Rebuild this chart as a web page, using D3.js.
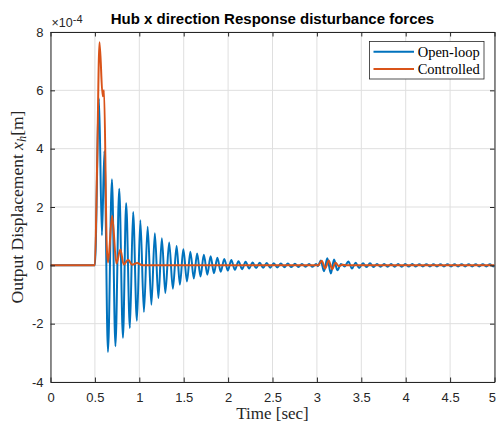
<!DOCTYPE html>
<html><head><meta charset="utf-8">
<script src="https://cdn.jsdelivr.net/npm/d3@7"></script>
<style>body{margin:0;background:#fff;} svg{display:block;}</style>
</head><body>
<svg id="chart" width="496" height="426"></svg>
<script>
// ---------------- data (displacement in units of 1e-4 m) ----------------
const xTicks = [0, 0.5, 1, 1.5, 2, 2.5, 3, 3.5, 4, 4.5, 5];
const yTicks = [-4, -2, 0, 2, 4, 6, 8];
const seriesNames = ["Open-loop", "Controlled"];

// Open-loop response: read turning points (time [s], value [1e-4 m])
const openT = [
  0, 0.500, 0.546, 0.579, 0.607, 0.647, 0.692, 0.731, 0.774, 0.816,
  0.852, 0.894, 0.930, 0.973, 1.012, 1.052, 1.094, 1.136, 1.175, 1.215,
  1.254, 1.293, 1.336, 1.378, 1.420, 1.457, 1.496, 1.537, 1.575, 1.614,
  1.651, 1.689, 1.727, 1.766, 1.803, 1.841, 1.879, 1.917, 1.957, 1.997,
  2.036, 2.077, 2.117, 2.158, 2.197, 2.237, 2.276, 2.316, 2.356, 2.395,
  2.435, 2.475, 2.514, 2.554, 2.594, 2.634, 2.673, 2.713, 2.753, 2.792,
  2.832, 2.872, 2.912, 2.951, 2.991, 3.012, 3.043, 3.080, 3.117, 3.157,
  3.193, 3.230, 3.271, 3.312, 3.354, 3.395, 3.436, 3.476, 3.519, 3.559,
  3.598, 3.638, 3.677, 3.717, 3.757, 3.796, 3.836, 3.876, 3.915, 3.955,
  3.995, 4.034, 4.074, 4.114, 4.154, 4.193, 4.233, 4.273, 4.312, 4.352,
  4.392, 4.431, 4.471, 4.511, 4.551, 4.590, 4.630, 4.670, 4.709, 4.749,
  4.789, 4.828, 4.868, 4.908, 4.948, 4.987, 5.000
];
const openY = [
  0, 0, 5.72, 1.03, 3.92, -2.97, 2.95, -2.77, 2.63, -2.48,
  2.13, -2.15, 1.83, -1.90, 1.55, -1.60, 1.32, -1.35, 1.10, -1.12,
  0.93, -0.95, 0.78, -0.80, 0.66, -0.66, 0.55, -0.55, 0.47, -0.45,
  0.41, -0.38, 0.36, -0.32, 0.31, -0.27, 0.26, -0.22, 0.22, -0.18,
  0.18, -0.15, 0.14, -0.13, 0.12, -0.11, 0.10, -0.095, 0.09, -0.085,
  0.08, -0.08, 0.075, -0.07, 0.065, -0.065, 0.06, -0.06, 0.055, -0.055,
  0.05, -0.05, 0.05, -0.05, 0.045, -0.03, 0.17, -0.20, 0.24, -0.28,
  0.20, -0.17, 0.05, -0.04, 0.13, -0.11, 0.09, -0.09, 0.07, -0.06,
  0.07, -0.06, 0.05, -0.05, 0.05, -0.045, 0.045, -0.045, 0.045, -0.045,
  0.045, -0.04, 0.045, -0.04, 0.04, -0.04, 0.04, -0.04, 0.04, -0.04,
  0.04, -0.04, 0.04, -0.04, 0.04, -0.04, 0.04, -0.04, 0.04, -0.04,
  0.04, -0.04, 0.04, -0.04, 0.04, -0.04, 0
];

// Controlled response: read turning points
const ctrlT = [0, 0.500, 0.524, 0.552, 0.587, 0.603, 0.633, 0.648, 0.694, 0.742,
  0.787, 0.824, 0.874, 0.919, 0.975, 1.035, 3.015, 3.055, 3.093, 3.133,
  3.172, 3.210, 3.248, 3.290, 3.330, 5.000];
const ctrlY = [0, 0, 3.3, 7.65, 5.8, 6.0, 0.7, 0.1, 1.7, 0.06,
  0.54, 0.03, 0.19, 0.02, 0.08, 0, 0, 0.16, -0.11, 0.17,
  -0.13, 0.09, -0.03, 0.02, 0, 0];

// ---------------- drawing ----------------
const W = 496, H = 426;
const box = {l: 50.5, r: 494.5, t: 32, b: 382};
const axColor = "#262626";
const sans = "'Liberation Sans', Arial, Helvetica, sans-serif";
const serif = "'Liberation Serif', 'Times New Roman', serif";
const colors = ["#0072BD", "#D95319"];

const svg = d3.select("#chart");
svg.append("rect").attr("width", W).attr("height", H).attr("fill", "#fff");

const x = d3.scaleLinear().domain([0, 5]).range([box.l, box.r]);
const y = d3.scaleLinear().domain([-4, 8]).range([box.b, box.t]);

// grid
const grid = svg.append("g");
grid.selectAll("line.gx").data(xTicks).join("line").attr("class", "gx")
  .attr("x1", d => x(d)).attr("x2", d => x(d)).attr("y1", box.t).attr("y2", box.b)
  .attr("stroke", "#dfdfdf").attr("stroke-width", 1);
grid.selectAll("line.gy").data(yTicks).join("line").attr("class", "gy")
  .attr("y1", d => y(d)).attr("y2", d => y(d)).attr("x1", box.l).attr("x2", box.r)
  .attr("stroke", "#dfdfdf").attr("stroke-width", 1);

// clip
svg.append("clipPath").attr("id", "clip").append("rect")
  .attr("x", box.l).attr("y", box.t).attr("width", box.r - box.l).attr("height", box.b - box.t);

const line = d3.line().x(d => x(d[0])).y(d => y(d[1])).curve(d3.curveMonotoneX);
const plot = svg.append("g").attr("clip-path", "url(#clip)");
plot.append("path").datum(d3.zip(openT, openY)).attr("d", line)
  .attr("fill", "none").attr("stroke", colors[0]).attr("stroke-width", 2).attr("stroke-linejoin", "round");
plot.append("path").datum(d3.zip(ctrlT, ctrlY)).attr("d", line)
  .attr("fill", "none").attr("stroke", colors[1]).attr("stroke-width", 2).attr("stroke-linejoin", "round");

// axes
function style(g) {
  g.attr("font-family", sans).attr("font-size", 13);
  g.selectAll("path.domain").attr("stroke", axColor).attr("stroke-width", 1);
  g.selectAll(".tick line").attr("stroke", axColor).attr("stroke-width", 1);
  g.selectAll(".tick text").attr("fill", axColor);
}
const fmt = d => String(d);
const gxb = svg.append("g").attr("transform", `translate(0,${box.b})`)
  .call(d3.axisBottom(x).tickValues(xTicks).tickFormat(fmt).tickSizeInner(-4.5).tickSizeOuter(0).tickPadding(11))
  .call(style);
// keep the last label inside the picture (the reference shows it at the very edge)
gxb.selectAll(".tick text").filter(d => d === 5)
  .attr("text-anchor", "end").attr("x", W - box.r - 0.5);
svg.append("g").attr("transform", `translate(0,${box.t})`)
  .call(d3.axisTop(x).tickValues(xTicks).tickFormat("").tickSizeInner(-4.5).tickSizeOuter(0))
  .call(style);
svg.append("g").attr("transform", `translate(${box.l},0)`)
  .call(d3.axisLeft(y).tickValues(yTicks).tickFormat(fmt).tickSizeInner(-4.5).tickSizeOuter(0).tickPadding(7))
  .call(style);
svg.append("g").attr("transform", `translate(${box.r},0)`)
  .call(d3.axisRight(y).tickValues(yTicks).tickFormat("").tickSizeInner(-4.5).tickSizeOuter(0))
  .call(style);

// exponent label
const ex = svg.append("text").attr("x", 51.5).attr("y", 27.3)
  .attr("font-family", sans).attr("font-size", 12.5).attr("fill", axColor);
ex.append("tspan").text("\u00d710");
ex.append("tspan").attr("font-size", 11).attr("dy", -4.5).text("-4");

// title
svg.append("text").attr("x", (box.l + box.r) / 2).attr("y", 24)
  .attr("text-anchor", "middle").attr("font-family", sans).attr("font-weight", "bold")
  .attr("font-size", 15).attr("fill", "#000")
  .text("Hub x direction Response disturbance forces");

// x label
svg.append("text").attr("x", (box.l + box.r) / 2).attr("y", 419)
  .attr("text-anchor", "middle").attr("font-family", serif).attr("font-size", 17)
  .attr("fill", axColor).text("Time [sec]");

// y label
const yl = svg.append("text")
  .attr("transform", `translate(23,${(box.t + box.b) / 2}) rotate(-90)`)
  .attr("text-anchor", "middle").attr("font-family", serif).attr("font-size", 17.5)
  .attr("fill", axColor);
yl.append("tspan").text("Output Displacement ");
yl.append("tspan").attr("font-style", "italic").text("x");
yl.append("tspan").attr("font-style", "italic").attr("font-size", 12.5).attr("dy", 3).text("h");
yl.append("tspan").attr("dy", -3).text("[m]");

// legend
const lg = svg.append("g");
lg.append("rect").attr("x", 369.5).attr("y", 41.5).attr("width", 114.5).attr("height", 37.5)
  .attr("fill", "#fff").attr("stroke", axColor).attr("stroke-width", 0.8);
seriesNames.forEach((name, i) => {
  const yy = 51.7 + i * 17.3;
  lg.append("line").attr("x1", 373.5).attr("x2", 414).attr("y1", yy).attr("y2", yy)
    .attr("stroke", colors[i]).attr("stroke-width", 2);
  lg.append("text").attr("x", 417.7).attr("y", yy + 4.8)
    .attr("font-family", serif).attr("font-size", 14.5).attr("fill", "#000").text(name);
});
</script>
</body></html>
